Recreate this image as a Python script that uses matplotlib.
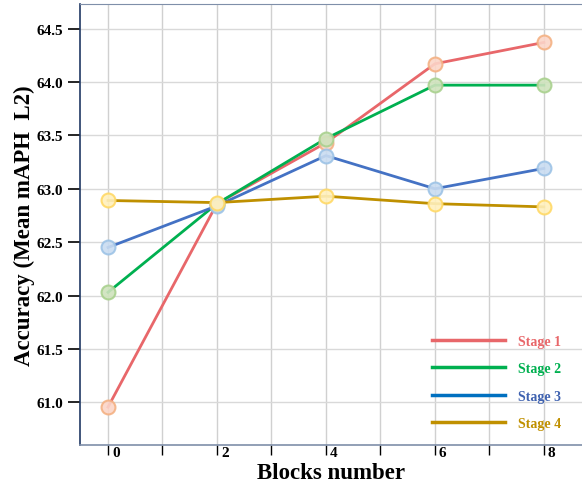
import matplotlib
matplotlib.use("Agg")
import matplotlib.pyplot as plt
from matplotlib.transforms import ScaledTranslation

plt.rcParams["font.family"] = ["Liberation Serif", "DejaVu Serif"]
plt.rcParams["font.weight"] = "bold"

BLOCKS = [0, 2, 4, 6, 8]
STAGE_1 = [60.955, 62.86, 63.43, 64.17, 64.37]
STAGE_2 = [62.03, 62.86, 63.47, 63.97, 63.97]
STAGE_3 = [62.45, 62.84, 63.31, 63.00, 63.19]
STAGE_4 = [62.89, 62.87, 62.93, 62.86, 62.83]
LABELS = ["Stage 1", "Stage 2", "Stage 3", "Stage 4"]

LINE_COLORS = ["#e8676a", "#00b050", "#4472c4", "#bf9000"]
LEGEND_COLORS = ["#e8676a", "#00b050", "#0070c0", "#c09000"]
TEXT_COLORS = ["#e8676a", "#00b050", "#3f62b0", "#c09000"]
FACE_COLORS = ["#fbd5c8", "#cfe3bd", "#c9dcf1", "#fff0bd"]
EDGE_COLORS = ["#f4b183", "#a9d18e", "#9dc3e6", "#ffd966"]


def main() -> None:
    fig = plt.figure(figsize=(5.82, 4.85), dpi=100)
    left, bottom = 80 / 582, 1 - 446 / 485
    ax = fig.add_axes([left, bottom, 1.0 - left, (446 - 5) / 485])

    series = [STAGE_1, STAGE_2, STAGE_3, STAGE_4]
    for i, vals in enumerate(series):
        ax.plot(BLOCKS, vals, color=LINE_COLORS[i], lw=2.0, zorder=3)
    for i, vals in enumerate(series):
        ax.plot(BLOCKS, vals, ls="none", marker="o", markersize=10,
                markerfacecolor=FACE_COLORS[i], markeredgecolor=EDGE_COLORS[i],
                markeredgewidth=1.5, alpha=0.9, zorder=4)

    # legend handles only (long coloured lines)
    handles = [plt.Line2D([], [], color=c, lw=2.5) for c in LEGEND_COLORS]
    leg = ax.legend(handles, LABELS, loc="lower right", bbox_to_anchor=(0.983, 0.005),
                    frameon=False, handlelength=5.3, handletextpad=0.9,
                    labelspacing=1.05, prop={"size": 10, "weight": "bold"})
    for txt, c in zip(leg.get_texts(), TEXT_COLORS):
        txt.set_color(c)

    ax.set_xlim(-0.514, 8.70)
    ax.set_ylim(60.60, 64.73)
    ax.set_xticks(BLOCKS)
    ax.set_xticks([1, 3, 5, 7], minor=True)
    ax.set_yticks([61.0, 61.5, 62.0, 62.5, 63.0, 63.5, 64.0, 64.5])
    ax.set_yticklabels([f"{v:.1f}" for v in ax.get_yticks()])
    ax.set_xticklabels([str(b) for b in BLOCKS], ha="left", va="top")

    ax.grid(True, which="both", axis="x", color="#d0d0d0", lw=1.0)
    ax.grid(True, which="major", axis="y", color="#d9d9d9", lw=1.0)
    ax.set_axisbelow(True)

    ax.tick_params(axis="y", direction="out", length=9, width=1.2, labelsize=11,
                   color="#000000", pad=3)
    ax.tick_params(axis="x", which="both", direction="out", length=7, width=1.0,
                   labelsize=11, pad=-6)
    shift = ScaledTranslation(4 / 100, 0, fig.dpi_scale_trans)
    for lbl in ax.get_xticklabels():
        lbl.set_transform(lbl.get_transform() + shift)

    ax.spines["left"].set_color("#203864")
    ax.spines["left"].set_linewidth(1.2)
    ax.spines["top"].set_color("#7f8fa9")
    ax.spines["bottom"].set_color("#7f8fa9")
    ax.spines["bottom"].set_linewidth(1.2)
    ax.spines["right"].set_visible(False)

    ax.set_xlabel("Blocks number", fontsize=16.5, fontweight="bold", labelpad=2)
    ax.set_ylabel("Accuracy (Mean mAPH  L2)", fontsize=16.5, fontweight="bold", labelpad=1)

    fig.savefig("out.png", dpi=100)
    plt.close(fig)


if __name__ == "__main__":
    main()
